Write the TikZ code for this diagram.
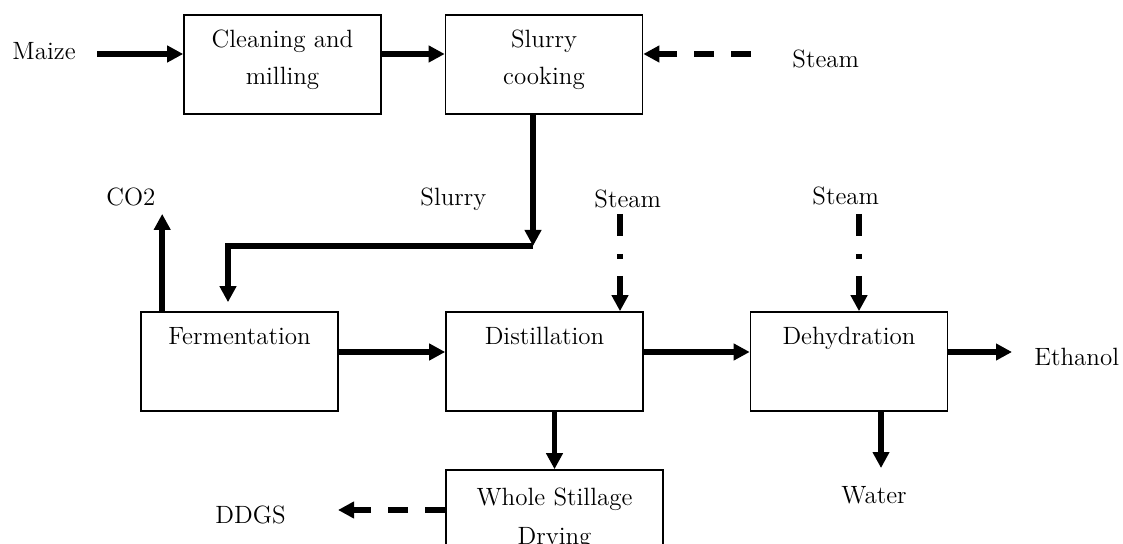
\documentclass[tikz,border=0pt]{standalone}
\usepackage{tikz}
\usetikzlibrary{calc, arrows.meta}

\begin{document}
\begin{tikzpicture}[x=0.5pt, y=-0.5pt,
  font=\fontsize{12.5pt}{18.5pt}\selectfont,
  unit/.style={draw, line width=0.8pt, minimum width=98.5pt, inner sep=0pt,
    text width=92pt, align=center, text height=16.5pt, text depth=33pt},
  lbl/.style={inner sep=0pt, anchor=base west},
  flow/.style={line width=2.8pt, -{Triangle[length=8pt, width=8pt]}},
  steamline/.style={dash pattern=on 10pt off 8.5pt},
  dashdot/.style={dash pattern=on 11pt off 9pt on 2.5pt off 8.5pt}]
\useasboundingbox (0,0) rectangle (1123,544);
\clip (0,0) rectangle (1123,544);

\node[unit] (clean) at (282.5,64.5) {Cleaning and\\ milling};
\node[unit] (cook) at (544,64.5) {Slurry\\ cooking};
\node[unit] (ferm) at (239.5,361.5) {Fermentation};
\node[unit] (dist) at (544.5,361.5) {Distillation};
\node[unit] (dehyd) at (849,361.5) {Dehydration};
\node[unit, minimum width=108.5pt, text height=17.5pt, text depth=32pt,
  font=\fontsize{12.5pt}{19.5pt}\selectfont] (dry) at (554.5,519.5) {Whole Stillage\\ Drying};

\node[lbl] (maize) at (12,60) {Maize};
\node[lbl] (steamA) at (792,68) {Steam};
\node[lbl] (co2) at (106,206) {CO2};
\node[lbl] (slurry) at (420,206) {Slurry};
\node[lbl] (steamB) at (594,208) {Steam};
\node[lbl] (steamC) at (812,205) {Steam};
\node[lbl] (ethanol) at (1034,366) {Ethanol};
\node[lbl] (water) at (841,503) {Water};
\node[lbl] (ddgs) at (215,523) {DDGS};

\coordinate (r1) at (0,54);
\coordinate (r2) at (0,352);
\coordinate (r3) at (0,510);
\coordinate (bend) at (533,246);

\draw[flow, shorten <=10.5pt] (maize.east |- r1) -- (clean.west |- r1);
\draw[flow] (clean.east |- r1) -- (cook.west |- r1);
\draw[flow, steamline, shorten <=20.5pt] (steamA.west |- r1) -- (cook.east |- r1);
\draw[flow] (cook.south -| bend) -- (bend);
\draw[flow, shorten >=4.5pt] (bend) -| ([xshift=-5.75pt]ferm.north);
\draw[flow, shorten >=3.5pt] ([xshift=11pt]ferm.north west) -- ([xshift=11pt]ferm.north west |- co2.south);
\draw[flow] (ferm.east |- r2) -- (dist.west |- r2);
\draw[flow] (dist.east |- r2) -- (dehyd.west |- r2);
\draw[flow, shorten >=11pt] (dehyd.east |- r2) -- (ethanol.west |- r2);
\draw[flow, dashdot, shorten <=2.5pt] ([xshift=37.75pt]dist.north |- steamB.south) -- ([xshift=37.75pt]dist.north);
\draw[flow, dashdot, shorten <=4pt] ([xshift=5pt]dehyd.north |- steamC.south) -- ([xshift=5pt]dehyd.north);
\draw[flow] (dist.south -| dry.north) -- (dry.north);
\draw[flow, shorten >=8.75pt] ([xshift=16pt]dehyd.south) -- ([xshift=16pt]dehyd.south |- water.north);
\draw[flow, steamline, shorten >=26pt] (dry.west |- r3) -- (ddgs.east |- r3);
\end{tikzpicture}
\end{document}
